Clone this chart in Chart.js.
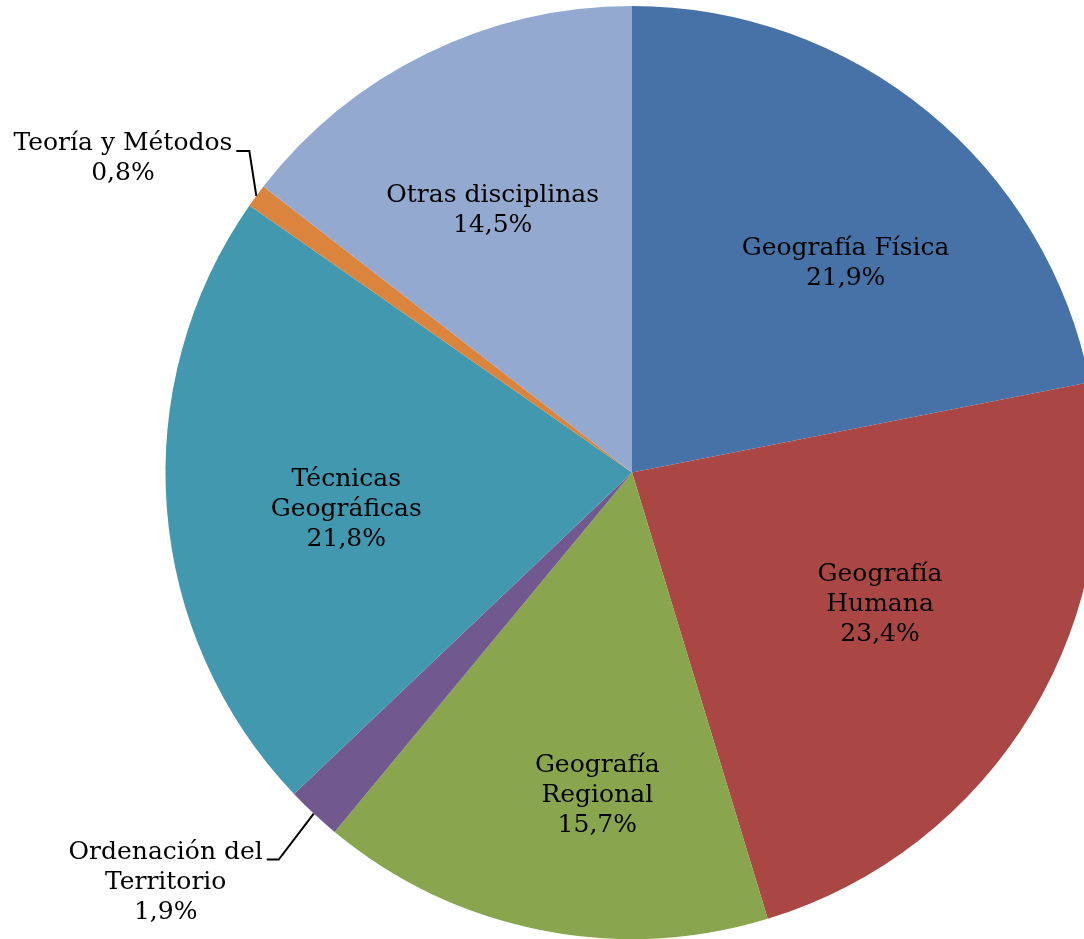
<!DOCTYPE html>
<html>
<head>
<meta charset="utf-8">
<script src="https://cdn.jsdelivr.net/npm/chart.js@4"></script>
<style>
    html, body { margin: 0; padding: 0; background: #ffffff; overflow: hidden; }
    #wrap { position: absolute; left: 0; top: 0; }
</style>
</head>
<body>
<div id="wrap"><canvas id="pie" width="1264" height="939"></canvas></div>
<script>
// Categories (each entry is the label split into its display lines)
const categories = [
    ['Geografía Física'],
    ['Geografía', 'Humana'],
    ['Geografía', 'Regional'],
    ['Ordenación del', 'Territorio'],
    ['Técnicas', 'Geográficas'],
    ['Teoría y Métodos'],
    ['Otras disciplinas']
];
const shares = [21.9, 23.4, 15.7, 1.9, 21.8, 0.8, 14.5];
const sliceColors = ['#4672A7', '#AA4643', '#89A54E', '#71588F', '#4298AF', '#DB843D', '#93A9CF'];

const FONT = '25px "DejaVu Serif"';
const LINE_H = 30;

// small nudges of the inside labels away from the plain mid-angle spot
const labelNudge = {
    0: [24, 22],
    1: [-8, -22],
    2: [24, 30],
    4: [12, 15],
    6: [-8, 6]
};

// leader line layout for the thin slices: elbow offset from the slice edge, then horizontal run
const outsideLabels = {
    3: { elbow: [-35, 46], run: -12 },
    5: { elbow: [-7, -45], run: -13 }
};

function fmt(v) {
    return v.toFixed(1).replace('.', ',') + '%';
}

const labelPlugin = {
    id: 'sliceLabels',
    afterDatasetsDraw(chart) {
        const ctx = chart.ctx;
        const meta = chart.getDatasetMeta(0);
        ctx.save();
        ctx.font = FONT;
        ctx.fillStyle = '#000000';
        ctx.textBaseline = 'middle';
        ctx.textAlign = 'center';
        meta.data.forEach((arc, i) => {
            const lines = categories[i].concat([fmt(shares[i])]);
            const mid = (arc.startAngle + arc.endAngle) / 2;
            const out = outsideLabels[i];
            if (!out) {
                const r = arc.outerRadius * 0.64;
                const nudge = labelNudge[i] || [0, 0];
                const cx = arc.x + Math.cos(mid) * r + nudge[0];
                const cy = arc.y + Math.sin(mid) * r + nudge[1];
                const top = cy - (lines.length - 1) * LINE_H / 2;
                lines.forEach((t, k) => ctx.fillText(t, cx, top + k * LINE_H));
                return;
            }
            const ex = arc.x + Math.cos(mid) * arc.outerRadius;
            const ey = arc.y + Math.sin(mid) * arc.outerRadius;
            const px = ex + out.elbow[0];
            const py = ey + out.elbow[1];
            const qx = px + out.run;
            ctx.strokeStyle = '#000000';
            ctx.lineWidth = 2;
            ctx.beginPath();
            ctx.moveTo(ex, ey);
            ctx.lineTo(px, py);
            ctx.lineTo(qx, py);
            ctx.stroke();
            const w = Math.max(...lines.map(t => ctx.measureText(t).width));
            const cx = qx - 4 - w / 2;
            const top = py - 7;
            lines.forEach((t, k) => ctx.fillText(t, cx, top + k * LINE_H));
        });
        ctx.restore();
    }
};

new Chart(document.getElementById('pie'), {
    type: 'pie',
    data: {
        labels: categories,
        datasets: [{
            data: shares,
            backgroundColor: sliceColors,
            borderWidth: 0
        }]
    },
    options: {
        responsive: false,
        animation: false,
        layout: { padding: { top: 6, bottom: 0, left: 0, right: 0 } },
        plugins: {
            legend: { display: false },
            tooltip: { enabled: false }
        }
    },
    plugins: [labelPlugin]
});
</script>
</body>
</html>
